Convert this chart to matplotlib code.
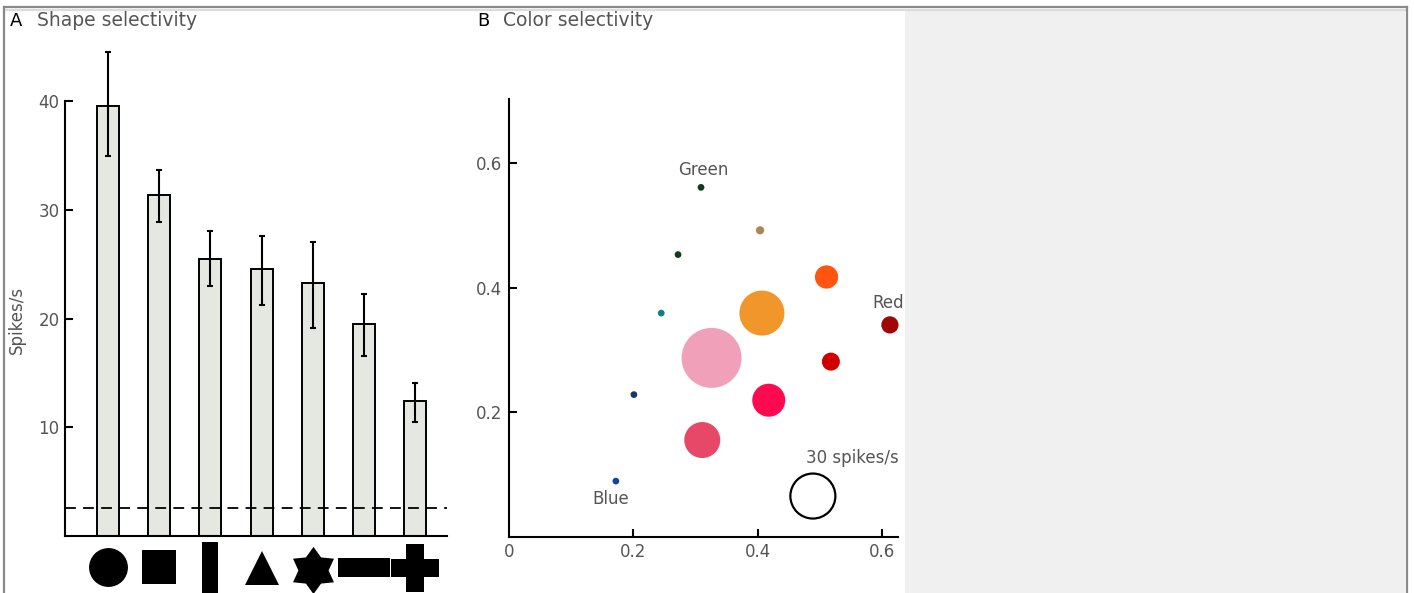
import numpy as np
import matplotlib
matplotlib.use("Agg")
import matplotlib.pyplot as plt
from matplotlib.path import Path
from matplotlib.patches import Rectangle
from matplotlib.lines import Line2D

# ---- panel A data: shape selectivity ----
shapes = ["circle", "square", "vbar", "triangle", "star", "hbar", "cross"]
rates = [39.6, 31.4, 25.5, 24.6, 23.3, 19.5, 12.4]
err_lo = [4.6, 2.5, 2.5, 3.3, 4.2, 2.9, 1.9]
err_hi = [4.9, 2.3, 2.6, 3.0, 3.8, 2.8, 1.7]
baseline = 2.6
a_yticks = [10, 20, 30, 40]

# ---- panel B data: color selectivity (chromaticity x, y, response) ----
cie_x = [0.309, 0.404, 0.272, 0.511, 0.407, 0.245, 0.613, 0.326, 0.518, 0.201, 0.418, 0.311, 0.172]
cie_y = [0.561, 0.492, 0.453, 0.417, 0.359, 0.359, 0.340, 0.287, 0.281, 0.228, 0.219, 0.155, 0.089]
resp = [4.5, 5.5, 4.5, 15.5, 30, 4.5, 11.5, 40, 12, 4.5, 22, 24, 4.5]
dot_colors = ["#0d3d1a", "#a8885a", "#103c18", "#ff5511", "#f0962a", "#138080", "#a00808",
              "#f0a0b8", "#d00000", "#14386e", "#ff0a50", "#e84868", "#1446a0"]
ref_rate = 30
ref_xy = (0.489, 0.065)
b_ticks = [0.2, 0.4, 0.6]

gray_txt = "#555555"
plt.rcParams["font.family"] = "DejaVu Sans"

W, H = 1414, 593
fig = plt.figure(figsize=(W / 100, H / 100), dpi=100)

def px(x0, y0, x1, y1):
    # pixel box (top-left origin) -> figure fraction rect
    return [x0 / W, 1 - y1 / H, (x1 - x0) / W, (y1 - y0) / H]

# background panel + frame
fig.patches.append(Rectangle((905 / W, 0), 500 / W, 1 - 10 / H, transform=fig.transFigure,
                             facecolor="#f0f0f0", edgecolor="none", zorder=0))
for xs, ys, c in [([4 / W, 1407 / W], [1 - 7 / H] * 2, "#8a8a8a"),
                  ([4 / W, 1407 / W], [1 - 10 / H] * 2, "#dcdcdc"),
                  ([4 / W] * 2, [0, 1 - 7 / H], "#8a8a8a"),
                  ([1407 / W] * 2, [0, 1 - 7 / H], "#8a8a8a")]:
    fig.add_artist(Line2D(xs, ys, transform=fig.transFigure, color=c, lw=1.6))

# ---------------- panel A ----------------
ax = fig.add_axes(px(65, 47, 447, 536))
x = np.arange(len(rates))
ax.bar(x, rates, width=0.43, color="#e5e7e1", edgecolor="black", linewidth=1.4, zorder=2)
ax.errorbar(x, rates, yerr=[err_lo, err_hi], fmt="none", ecolor="black",
            elinewidth=1.5, capsize=2.5, capthick=1.5, zorder=3)
ax.axhline(baseline, color="black", lw=1.3, dashes=(6, 4), zorder=4)
ax.set_xlim(-0.84, 6.62)
ax.set_ylim(0, 45)
ax.set_yticks(a_yticks)
ax.set_xticks([])
for s in ["top", "right"]:
    ax.spines[s].set_visible(False)
ax.spines["left"].set_bounds(0, 40)
for s in ["left", "bottom"]:
    ax.spines[s].set_linewidth(1.5)
ax.tick_params(axis="y", direction="in", length=6, width=1.5, pad=4,
               labelsize=12, labelcolor=gray_txt)
ax.patch.set_alpha(0)

# shape glyphs under the bars
rect_v = [(-0.12, -0.5), (0.12, -0.5), (0.12, 0.5), (-0.12, 0.5), (-0.12, -0.5)]
rect_h = [(-0.5, -0.18), (0.5, -0.18), (0.5, 0.18), (-0.5, 0.18), (-0.5, -0.18)]
t = 0.195
cross = [(-t, 0.5), (t, 0.5), (t, t), (0.5, t), (0.5, -t), (t, -t), (t, -0.5),
         (-t, -0.5), (-t, -t), (-0.5, -t), (-0.5, t), (-t, t), (-t, 0.5)]
star6 = Path.unit_regular_star(6, 0.64)
glyphs = [("o", 28, -2.85), ("s", 25, -2.85), (rect_v, 48, -3.6), ("^", 25, -2.9),
          (star6, 34, -3.15), (rect_h, 38, -2.85), (cross, 35, -2.95)]
for xi, (m, ms, yy) in zip(x, glyphs):
    ax.plot([xi], [yy], marker=m, ms=ms, color="black", mew=0, clip_on=False, zorder=5)

fig.text(10 / W, 1 - 21 / H, "A", fontsize=13, color="black", va="center", ha="left")
fig.text(37 / W, 1 - 21 / H, "Shape selectivity", fontsize=13.5, color=gray_txt,
         va="center", ha="left")
fig.text(17 / W, 1 - 320 / H, "Spikes/s", fontsize=12, color=gray_txt, rotation=90,
         va="center", ha="center")

# ---------------- panel B ----------------
bx = fig.add_axes(px(509, 99, 898, 536.5))
k = 1.5 * 72 / 100  # points per spike/s in diameter
sizes = [(r * k) ** 2 for r in resp]
bx.scatter(cie_x, cie_y, s=sizes, c=dot_colors, linewidths=0, clip_on=False, zorder=3)
bx.scatter([ref_xy[0]], [ref_xy[1]], s=(ref_rate * k) ** 2, facecolors="none",
           edgecolors="black", linewidths=1.6, clip_on=False, zorder=3)
bx.text(0.312, 0.589, "Green", fontsize=12, color=gray_txt, ha="center", va="center")
bx.text(0.611, 0.375, "Red", fontsize=12, color=gray_txt, ha="center", va="center")
bx.text(0.163, 0.060, "Blue", fontsize=12, color=gray_txt, ha="center", va="center")
bx.text(0.552, 0.126, f"{ref_rate} spikes/s", fontsize=12, color=gray_txt,
        ha="center", va="center")
bx.set_xlim(0, 0.626)
bx.set_ylim(0, 0.703)
bx.set_xticks([0] + b_ticks)
bx.set_xticklabels(["0"] + [f"{v:.1f}" for v in b_ticks])
bx.set_yticks(b_ticks)
bx.set_yticklabels([f"{v:.1f}" for v in b_ticks])
for s in ["top", "right"]:
    bx.spines[s].set_visible(False)
for s in ["left", "bottom"]:
    bx.spines[s].set_linewidth(1.5)
bx.tick_params(direction="in", length=6, width=1.5, pad=5, labelsize=12, labelcolor=gray_txt)
bx.xaxis.get_major_ticks()[0].tick1line.set_visible(False)
bx.patch.set_alpha(0)

fig.text(477 / W, 1 - 21 / H, "B", fontsize=13, color="black", va="center", ha="left")
fig.text(503 / W, 1 - 21 / H, "Color selectivity", fontsize=13.5, color=gray_txt,
         va="center", ha="left")

fig.savefig("out.png", dpi=100)
